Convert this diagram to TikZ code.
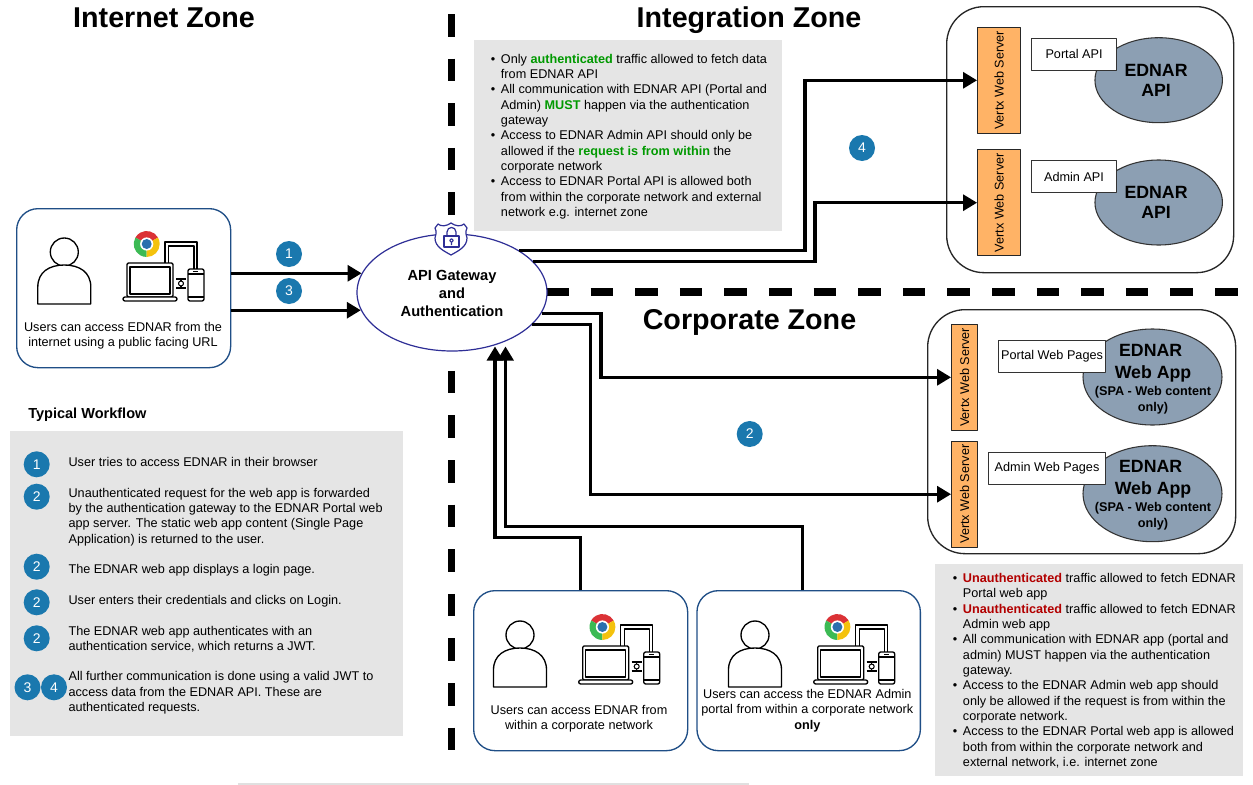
\documentclass[tikz,border=0pt]{standalone}
\usepackage{fontspec}
\setmainfont{Liberation Sans}
\usetikzlibrary{arrows.meta,shapes.geometric}
\newcommand\pxu{0.75pt}
\newcommand\itemdot{\llap{\textbullet\hspace{4.2pt}}}
\newcommand\spafont{\fontsize{9.5}{11.4}\selectfont}
\definecolor{stepblue}{HTML}{1A78AE}
\definecolor{notegrey}{HTML}{E5E5E5}
\definecolor{slateapp}{HTML}{8C9FB3}
\definecolor{vertxorange}{HTML}{FFB366}
\definecolor{boxblue}{HTML}{1F4E86}
\definecolor{gatenavy}{HTML}{2E2E96}
\definecolor{okgreen}{HTML}{009900}
\definecolor{badred}{HTML}{B20000}
\definecolor{chromered}{HTML}{DB3236}
\definecolor{chromegreen}{HTML}{3CBA54}
\definecolor{chromeyellow}{HTML}{F4C20D}
\definecolor{chromeblue}{HTML}{2A6FAE}
\tikzset{
	zonetitle/.style = {font = \fontsize{21.5}{25}\selectfont\bfseries, inner sep = 0, anchor = base},
	bodytext/.style = {font = \fontsize{9.5}{11.5}\selectfont, inner sep = 0, align = left, anchor = base west},
	boxtext/.style = {font = \fontsize{9.5}{11.5}\selectfont, inner sep = 0, align = center, anchor = base},
	apptext/.style = {font = \fontsize{13.3}{15.2}\selectfont\bfseries, inner sep = 0, align = center, anchor = base},
	notebox/.style = {fill = notegrey, inner sep = 0, anchor = north west},
	userbox/.style = {draw = boxblue, line width = 1pt, rounded corners = 16pt, fill = white, inner sep = 0, anchor = north west},
	hostbox/.style = {draw = black!85, line width = 1pt, rounded corners = 28pt, fill = white, inner sep = 0, anchor = north west},
	vertxbox/.style = {draw = black!85, line width = 1pt, fill = vertxorange, rotate = 90, inner sep = 0,
		minimum width = 106*\pxu, font = \fontsize{9.5}{11.5}\selectfont},
	appshape/.style = {ellipse, draw = black!80, line width = 0.8pt, fill = slateapp, inner sep = 0, align = center},
	tagbox/.style = {draw = black!80, line width = 0.8pt, fill = white, inner sep = 0, anchor = north west,
		font = \fontsize{9.5}{11.5}\selectfont},
	stepdot/.style = {circle, fill = stepblue, text = white, inner sep = 0, minimum size = 26*\pxu,
		font = \fontsize{10.5}{12}\selectfont},
	flowarrow/.style = {line width = 2.3pt, line join = miter, -{Triangle[length = 10.5pt, width = 12pt]}},
	zoneline/.style = {line width = 5.6pt, line cap = butt, dash pattern = on 16.9pt off 16.55pt},
	userdevices/.pic = {
		% person
		\draw[line width = 1pt, fill = white] (0,0) circle (14);
		\draw[line width = 1pt, fill = white] (-26.5,52) -- (26.5,52) -- (26.5,35) .. controls (26.5,20) and (15,13) .. (0,13)
			.. controls (-15,13) and (-26.5,20) .. (-26.5,35) -- cycle;
		% devices
		\draw[line width = 1pt] (100.7,11) -- (100.7,-10) -- (132.7,-10) -- (132.7,17);
		\draw[line width = 1pt] (104.2,11) -- (104.2,-6) -- (129.7,-6) -- (129.7,17);
		\draw[line width = 1pt, fill = white, rounded corners = 1pt] (62.7,11) rectangle (108.7,45);
		\draw[line width = 1pt] (65.7,15) rectangle (105.7,42);
		\draw[line width = 1pt, fill = white, rounded corners = 1.5pt] (58.7,45) rectangle (112.7,49);
		\draw[line width = 1pt, fill = white, rounded corners = 1.5pt] (123.7,17) rectangle (139.7,49);
		\draw[line width = 0.8pt] (123.7,22) -- (139.7,22) (123.7,45) -- (139.7,45) (129,19.5) -- (134,19.5);
		\draw[line width = 0.8pt] (111.7,27) -- (121.7,27) (111.7,36) -- (121.7,36) (116.7,27) -- (116.7,29) (116.7,34) -- (116.7,36);
		\draw[line width = 0.8pt] (116.7,31.5) circle (2.5);
		% browser logo
		\begin{scope}[shift = {(82.4,-8)}]
			\fill[chromered] (0,0) -- (-30:13) arc (-30:-150:13) -- cycle;
			\fill[chromegreen] (0,0) -- (-150:13) arc (-150:-270:13) -- cycle;
			\fill[chromeyellow] (0,0) -- (90:13) arc (90:-30:13) -- cycle;
			\fill[white] (0,0) circle (6.6);
			\fill[chromeblue] (0,0) circle (5);
		\end{scope}
	}
}
\begin{document}
\begin{tikzpicture}[line join = round, x = 0.75pt, y = -0.75pt]
	\path[use as bounding box, fill = white] (0,0) rectangle (1253,785);
	\draw[black!12, line width = 0.8pt] (238,784) -- (749,784);

	% zone borders
	\draw[zoneline] (451.5,14) -- (451.5,750);
	\draw[zoneline] (546,292) -- (1238,292);

	\node[zonetitle] (internettitle) at (164,27) {Internet Zone};
	\node[zonetitle] (integrationtitle) at (749,27) {Integration Zone};
	\node[zonetitle] (corporatetitle) at (749.5,329) {Corporate Zone};

	% users
	\node[userbox, minimum width = 214*\pxu, minimum height = 159*\pxu] (internetbox) at (16,208) {};
	\pic at (64.3,252) {userdevices};
	\node[boxtext] (internetlabel) at (123,346.7) {Users can access EDNAR from the\\internet using a public facing URL};

	\node[userbox, minimum width = 214*\pxu, minimum height = 160*\pxu] (corpbox) at (473,590) {};
	\pic at (520,635) {userdevices};
	\node[boxtext] (corplabel) at (579,729.5) {Users can access EDNAR from\\within a corporate network};

	\node[userbox, minimum width = 223.4*\pxu, minimum height = 160*\pxu] (adminbox) at (696.3,590) {};
	\pic at (755,635) {userdevices};
	\node[boxtext] (adminlabel) at (807.3,729) {Users can access the EDNAR Admin\\portal from within a corporate network\\\textbf{only}};

	% gateway
	\node[ellipse, draw = gatenavy, line width = 0.9pt, fill = white, inner sep = 0, minimum width = 190*\pxu, minimum height = 117*\pxu,
		align = center, font = \fontsize{11}{13.5}\selectfont\bfseries] (gateway) at (452,292.5) {\rule{0pt}{9.8pt}API Gateway\\and\\Authentication};
	\draw[gatenavy, line width = 0.9pt, fill = white] (451,223) .. controls (447,226) and (441,227) .. (438,224) -- (435,228)
		.. controls (437,232) and (436,235) .. (435,238) .. controls (435,247) and (444,251) .. (451,255)
		.. controls (458,251) and (467,247) .. (467,238) .. controls (466,235) and (465,232) .. (467,228)
		-- (464,224) .. controls (461,227) and (455,226) .. (451,223) -- cycle;
	\draw[gatenavy, line width = 0.9pt] (444,236) rectangle (459,247);
	\draw[gatenavy, line width = 0.9pt] (447,236) -- (447,232) .. controls (447,226) and (456,226) .. (456,232) -- (456,236);
	\draw[gatenavy, line width = 0.8pt] (451.5,240.5) circle (1.8) (451.5,242.3) -- (451.5,245);

	% integration hosts
	\node[hostbox, minimum width = 287*\pxu, minimum height = 266*\pxu] (apihost) at (946,6) {};
	\node[vertxbox, minimum height = 42.6*\pxu] (vertxportal) at (999,80.3) {Vertx Web Server};
	\node[vertxbox, minimum height = 42.6*\pxu] (vertxadmin) at (999,202.7) {Vertx Web Server};
	\node[appshape, minimum width = 127.5*\pxu, minimum height = 85*\pxu, font = \fontsize{13.3}{15.2}\selectfont\bfseries] (portalapi) at (1158.7,80.2) {\hspace{-4pt}EDNAR\\\hspace{-4pt}API};
	\node[appshape, minimum width = 127.5*\pxu, minimum height = 85*\pxu, font = \fontsize{13.3}{15.2}\selectfont\bfseries] (adminapi) at (1158.7,202.5) {\hspace{-4pt}EDNAR\\\hspace{-4pt}API};
	\node[tagbox, minimum width = 85*\pxu, minimum height = 32*\pxu] (portaltag) at (1031,37.7) {Portal API};
	\node[tagbox, minimum width = 85*\pxu, minimum height = 32*\pxu] (admintag) at (1031,160) {Admin API};

	% corporate hosts
	\node[hostbox, minimum width = 308*\pxu, minimum height = 244*\pxu] (webhost) at (927,309) {};
	\node[vertxbox, minimum height = 26*\pxu] (vertxpages) at (964.7,377.3) {Vertx Web Server};
	\node[vertxbox, minimum height = 26*\pxu] (vertxadminpages) at (964.7,494.2) {Vertx Web Server};
	\node[appshape, minimum width = 139*\pxu, minimum height = 96*\pxu] (portalapp) at (1152.5,377) {};
	\node[appshape, minimum width = 139*\pxu, minimum height = 96*\pxu] (adminapp) at (1152.5,493.7) {};
	\node[tagbox, minimum width = 107*\pxu, minimum height = 32*\pxu] (pagestag) at (998,340) {Portal Web Pages};
	\node[tagbox, minimum width = 117*\pxu, minimum height = 32*\pxu] (adminpagestag) at (988,452) {Admin Web Pages};
	\node[apptext] (portalapptext) at (1153,411.3)
		{\hspace{-3.5pt}EDNAR\\[1.8pt]Web App\\[-2.7pt]\spafont (SPA - Web content\\[-3.4pt]\spafont only)};
	\node[apptext] (adminapptext) at (1153,527.3)
		{\hspace{-3.5pt}EDNAR\\[1.8pt]Web App\\[-2.7pt]\spafont (SPA - Web content\\[-3.4pt]\spafont only)};

	% connectors
	\coordinate (corptip) at (495,346.5);
	\coordinate (admintip) at (505.5,346.5);
	\draw[flowarrow] (internetbox.east |- gateway.168.2) -- (gateway.168.2);
	\draw[flowarrow] (internetbox.east |- gateway.191) -- (gateway.191);
	\draw[flowarrow] (gateway.32.5) -| (805,0 |- vertxportal.north) -- (vertxportal.north);
	\draw[flowarrow] (gateway.21.5) -| (815,0 |- vertxadmin.north) -- (vertxadmin.north);
	\draw[flowarrow] (gateway.-13.7) -| (601,0 |- vertxpages.north) -- (vertxpages.north);
	\draw[flowarrow] (gateway.-22.4) -| (590.7,0 |- vertxadminpages.north) -- (vertxadminpages.north);
	\draw[flowarrow] (corpbox.north) |- (corptip |- 0,537.3) -- (corptip);
	\draw[flowarrow] (adminbox.north -| 802.3,0) |- (admintip |- 0,526.7) -- (admintip);

	\node[stepdot] (arrowone) at (289,254) {1};
	\node[stepdot] (arrowthree) at (289,291) {3};
	\node[stepdot] (arrowfour) at (862,148) {4};
	\node[stepdot] (arrowtwo) at (749.7,434) {2};

	% notes
	\node[notebox, minimum width = 308.4*\pxu, minimum height = 191*\pxu] (integrationnote) at (473.3,40) {};
	\node[bodytext] (integrationtext) at (500.7,216.5) {\itemdot Only \textcolor{okgreen}{\textbf{authenticated}} traffic allowed to fetch data\\
		from EDNAR API\\
		\itemdot All communication with EDNAR API (Portal and\\
		Admin) \textcolor{okgreen}{\textbf{MUST}} happen via the authentication\\
		gateway\\
		\itemdot Access to EDNAR Admin API should only be\\
		allowed if the \textcolor{okgreen}{\textbf{request is from within}} the\\
		corporate network\\
		\itemdot Access to EDNAR Portal API is allowed both\\
		from within the corporate network and external\\
		network e.g. internet zone};

	\node[notebox, minimum width = 308*\pxu, minimum height = 212*\pxu] (corporatenote) at (935,564) {};
	\node[bodytext] (corporatetext) at (962.7,766.5) {\itemdot \textcolor{badred}{\textbf{Unauthenticated}} traffic allowed to fetch EDNAR\\
		Portal web app\\
		\itemdot \textcolor{badred}{\textbf{Unauthenticated}} traffic allowed to fetch EDNAR\\
		Admin web app\\
		\itemdot All communication with EDNAR app (portal and\\
		admin) MUST happen via the authentication\\
		gateway.\\
		\itemdot Access to the EDNAR Admin web app should\\
		only be allowed if the request is from within the\\
		corporate network.\\
		\itemdot Access to the EDNAR Portal web app is allowed\\
		both from within the corporate network and\\
		external network, i.e. internet zone};

	% workflow
	\node[font = \fontsize{10.9}{13}\selectfont\bfseries, inner sep = 0, anchor = base west] (workflowtitle) at (28,418.5) {Typical Workflow};
	\node[notebox, minimum width = 393*\pxu, minimum height = 305*\pxu] (workflownote) at (10,431) {};
	\node[stepdot] (listone) at (36.7,464.3) {1};
	\node[bodytext] (listonetext) at (68.3,466.4) {User tries to access EDNAR in their browser};
	\node[stepdot] (listtwo) at (36.7,496.7) {2};
	\node[bodytext] (listtwotext) at (68.3,543.3) {Unauthenticated request for the web app is forwarded\\
		by the authentication gateway to the EDNAR Portal web\\
		app server. The static web app content (Single Page\\
		Application) is returned to the user.};
	\node[stepdot] (listthree) at (36.7,566.7) {2};
	\node[bodytext] (listthreetext) at (68.3,573) {The EDNAR web app displays a login page.};
	\node[stepdot] (listfour) at (36.7,602.3) {2};
	\node[bodytext] (listfourtext) at (68.3,604.7) {User enters their credentials and clicks on Login.};
	\node[stepdot] (listfive) at (36.7,638.3) {2};
	\node[bodytext] (listfivetext) at (68.3,650.8) {The EDNAR web app authenticates with an\\
		authentication service, which returns a JWT.};
	\node[stepdot] (listsixa) at (27.5,687.3) {3};
	\node[stepdot] (listsixb) at (54,687.3) {4};
	\node[bodytext] (listsixtext) at (68.3,711.4) {All further communication is done using a valid JWT to\\
		access data from the EDNAR API. These are\\
		authenticated requests.};
\end{tikzpicture}
\end{document}
